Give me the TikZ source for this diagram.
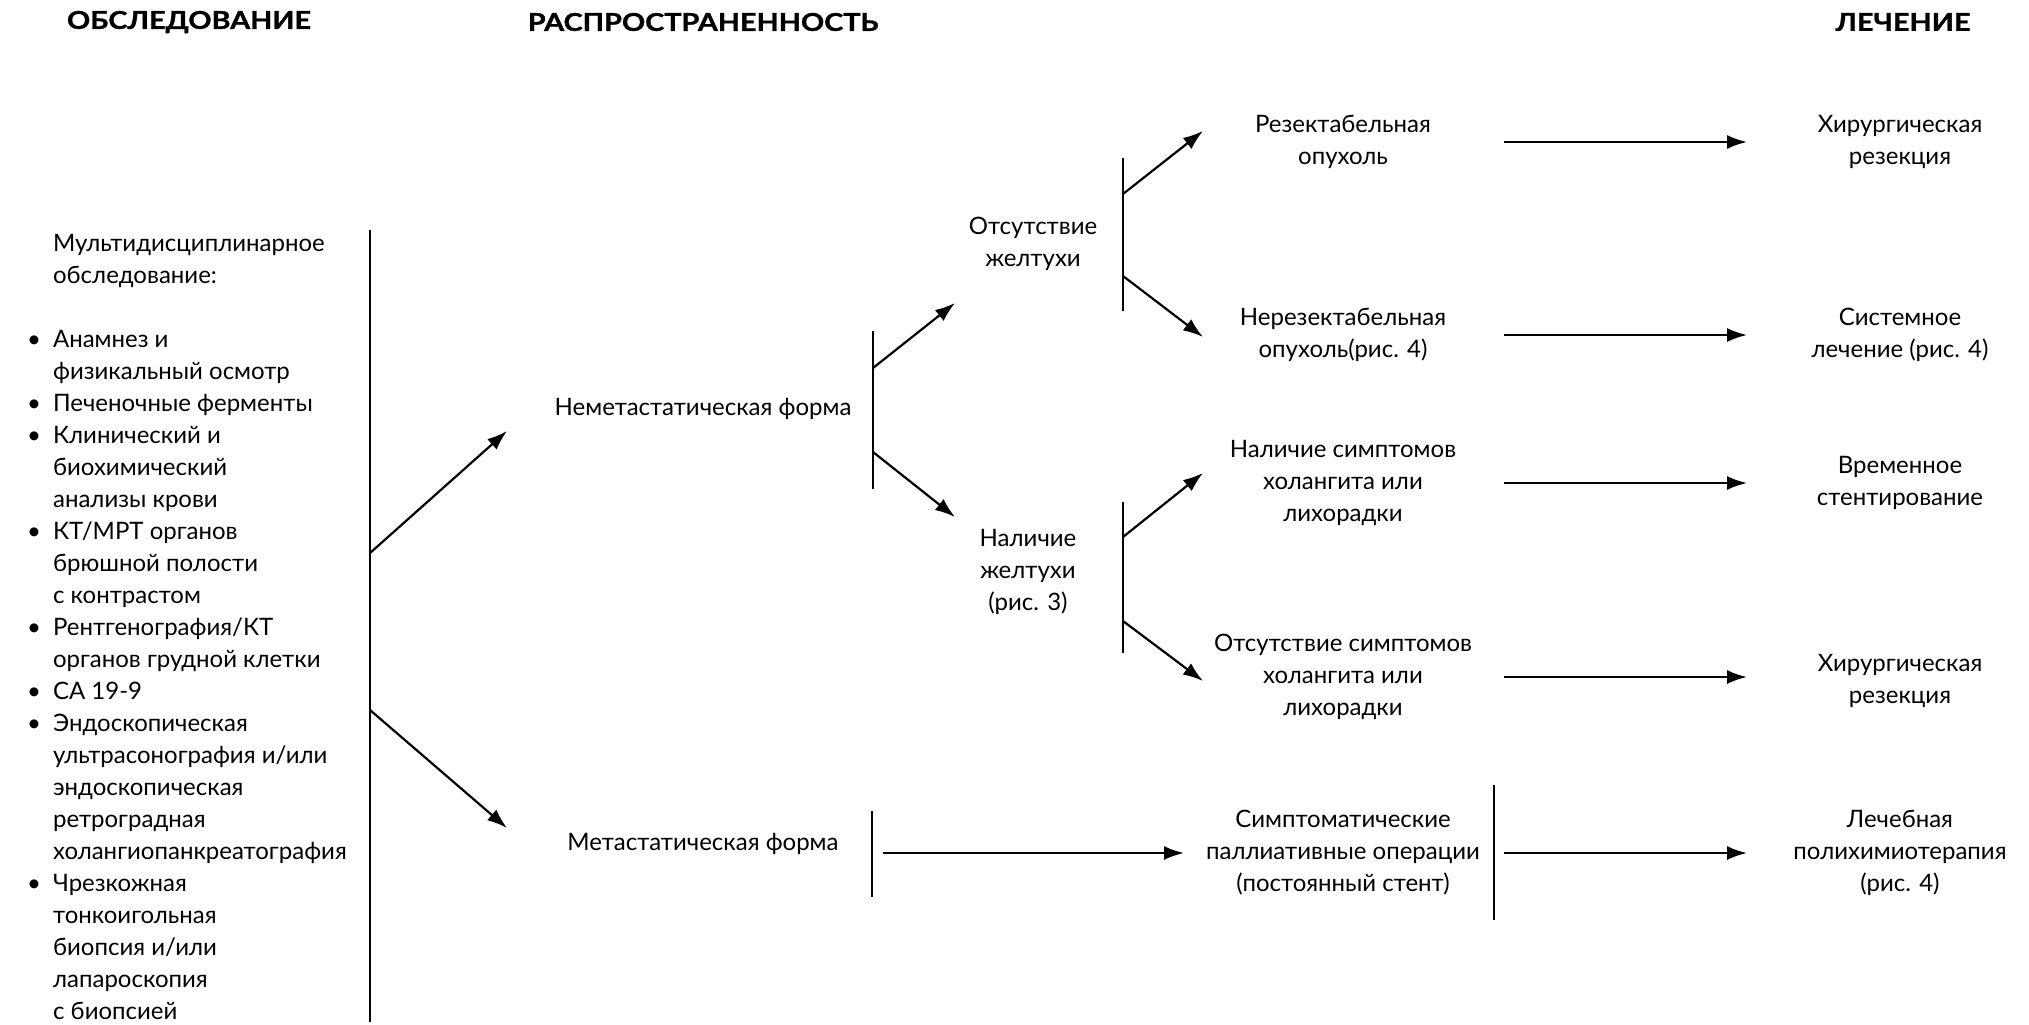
\documentclass[tikz,border=0pt]{standalone}
\usepackage{fontspec}
\setmainfont{Lato}
\newfontfamily\headfont[FakeStretch=1.17,FakeBold=1.2]{Lato}
\usetikzlibrary{arrows.meta}
\begin{document}
\begin{tikzpicture}[x=0.5pt,y=-0.5pt,line width=1.1pt,line cap=butt,>={Latex[length=10pt,width=7pt]}]
\tikzset{txt/.style={align=center,inner sep=0pt,font=\fontsize{12}{16}\selectfont},
	head/.style={inner sep=0pt,font=\headfont\bfseries\fontsize{12.3}{15}\selectfont}}
\useasboundingbox (0,0) rectangle (2029,1024);
% headers
\node[head] (hexam) at (189,22) {ОБСЛЕДОВАНИЕ};
\node[head] (hstage) at (703,22) {РАСПРОСТРАНЕННОСТЬ};
\node[head] (htreat) at (1903,22) {ЛЕЧЕНИЕ};
% examination list
\node[anchor=base west,inner sep=0pt,font=\fontsize{12}{16}\selectfont] (exam) at (26,251) {%
	\begin{tabular}[t]{@{}p{13pt}@{}l@{}}
	& Мультидисциплинарное\\
	& обследование:\\
	& \\
	• & Анамнез и\\
	& физикальный осмотр\\
	• & Печеночные ферменты\\
	• & Клинический и\\
	& биохимический\\
	& анализы крови\\
	• & КТ/МРТ органов\\
	& брюшной полости\\
	& с контрастом\\
	• & Рентгенография/КТ\\
	& органов грудной клетки\\
	• & СА 19-9\\
	• & Эндоскопическая\\
	& ультрасонография и/или\\
	& эндоскопическая\\
	& ретроградная\\
	& холангиопанкреатография\\
	• & Чрезкожная\\
	& тонкоигольная\\
	& биопсия и/или\\
	& лапароскопия\\
	& с биопсией
	\end{tabular}};
% stage
\node[txt] (nonmet) at (703,409) {Неметастатическая форма};
\node[txt] (met) at (703,844) {Метастатическая форма};
\node[txt] (nojaund) at (1033,244) {Отсутствие\\желтухи};
\node[txt] (jaund) at (1028,572) {Наличие\\желтухи\\(рис. 3)};
\node[txt] (resect) at (1343,142) {Резектабельная\\опухоль};
\node[txt] (unresect) at (1343,335) {Нерезектабельная\\опухоль(рис. 4)};
\node[txt] (chol) at (1343,483) {Наличие симптомов\\холангита или\\лихорадки};
\node[txt] (nochol) at (1343,677) {Отсутствие симптомов\\холангита или\\лихорадки};
\node[txt] (palliat) at (1343,853) {Симптоматические\\паллиативные операции\\(постоянный стент)};
% treatment
\node[txt] (surg) at (1900,142) {Хирургическая\\резекция};
\node[txt] (syst) at (1900,335) {Системное\\лечение (рис. 4)};
\node[txt] (stent) at (1900,483) {Временное\\стентирование};
\node[txt] (surgb) at (1900,681) {Хирургическая\\резекция};
\node[txt] (chemo) at (1900,853) {Лечебная\\полихимиотерапия\\(рис. 4)};
% bars
\draw (370,230)--(370,1022);
\draw (873,331)--(873,489);
\draw (1123,158)--(1123,311);
\draw (1123,502)--(1123,653);
\draw (872,811)--(872,897);
\draw (1494,785)--(1494,920);
% branch points
\coordinate (b1u) at (370,553); \coordinate (b1d) at (370,710);
\coordinate (b2u) at (873,368); \coordinate (b2d) at (873,452);
\coordinate (b3u) at (1123,194); \coordinate (b3d) at (1123,276);
\coordinate (b4u) at (1123,537); \coordinate (b4d) at (1123,621);
\coordinate (nonmetin) at (507,431); \coordinate (metin) at (507,828);
\coordinate (nojaundin) at (955,303); \coordinate (jaundin) at (955,517);
\coordinate (resectin) at (1203,131); \coordinate (unresectin) at (1203,337);
\coordinate (cholin) at (1203,473); \coordinate (nocholin) at (1203,681);
\draw[->] (b1u)--(nonmetin);
\draw[->] (b1d)--(metin);
\draw[->] (b2u)--(nojaundin);
\draw[->] (b2d)--(jaundin);
\draw[->] (b3u)--(resectin);
\draw[->] (b3d)--(unresectin);
\draw[->] (b4u)--(cholin);
\draw[->] (b4d)--(nocholin);
% to treatment
\foreach \y/\n in {142/surg,335/syst,483/stent,677/surgb,853/chemo}{
	\coordinate (\n out) at (1504,\y);
	\coordinate (\n in) at (1747,\y);
	\draw[->] (\n out)--(\n in);
}
\coordinate (metout) at (883,853); \coordinate (palliatin) at (1184,853);
\draw[->] (metout)--(palliatin);
\end{tikzpicture}
\end{document}
